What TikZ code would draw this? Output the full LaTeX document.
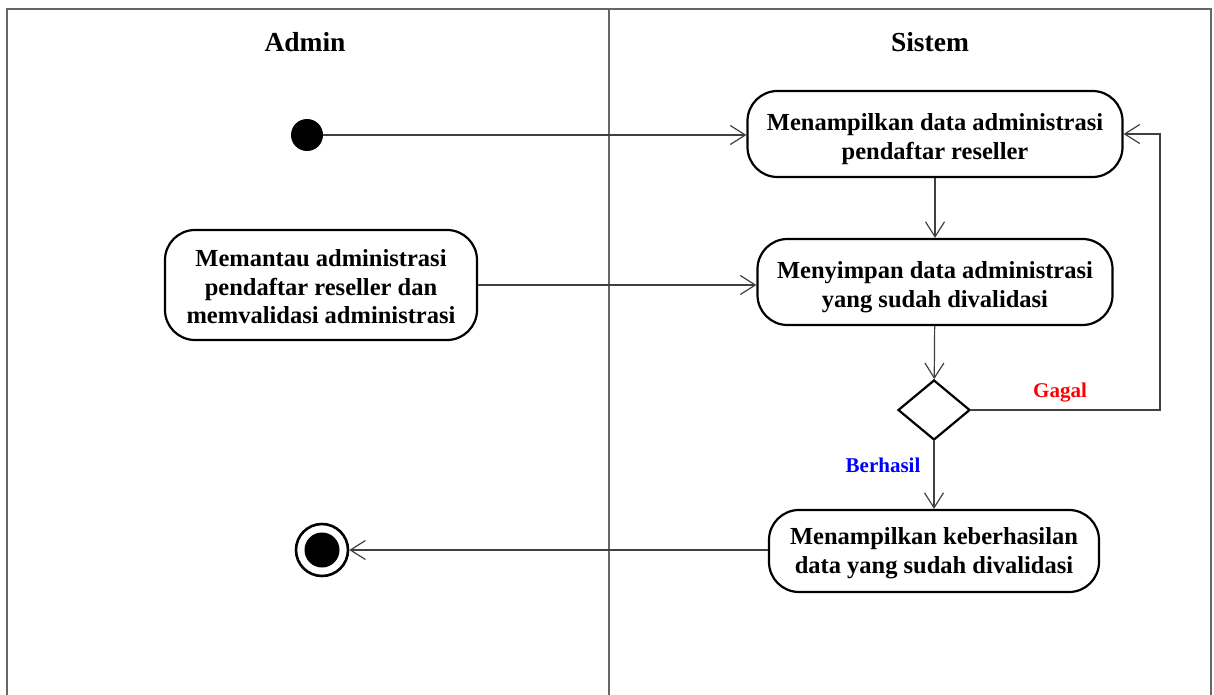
\documentclass[tikz,border=0pt]{standalone}
\usepackage{fontspec}
\setmainfont{Liberation Serif}
\usetikzlibrary{arrows.meta,shapes.geometric}
% strut that drops a two-line label a little below the geometric centre
\newcommand{\topstrut}[1]{\rule{0pt}{#1}}
\begin{document}
\begin{tikzpicture}[x=1pt,y=-1pt,
  lane/.style={draw=black!60, line width=1.6pt},
  title/.style={font=\fontsize{27.5}{32}\selectfont\bfseries},
  action/.style={draw=black, line width=2.2pt, rounded corners=30pt, align=center,
    inner sep=0pt, font=\fontsize{24.5}{28.5}\selectfont\bfseries},
  flow/.style={draw=black!75, line width=1.2pt,
    -{Straight Barb[length=15pt,width=19pt,line width=1.2pt]}},
  guard/.style={font=\fontsize{21}{24}\selectfont\bfseries},
  decision/.style={diamond, draw=black, line width=2.2pt, minimum width=72pt,
    minimum height=60pt, inner sep=0pt},
  startdot/.style={circle, fill=black, minimum size=32pt, inner sep=0pt},
  enddot/.style={circle, draw=black, line width=2.6pt, minimum size=52pt, inner sep=0pt},
  endcore/.style={circle, fill=black, minimum size=35pt, inner sep=0pt}]
\useasboundingbox (0,0) rectangle (1214,695);

% swimlane frame
\draw[lane] (7,695) -- (7,9) -- (1211,9) -- (1211,695);
\draw[lane] (609,9) -- (609,695);
\node[title] (tadmin) at (305,42) {Admin};
\node[title] (tsistem) at (930,42) {Sistem};

% activities
\node[startdot] (start) at (307,135) {};
\node[action, minimum width=375pt, minimum height=86pt] (show) at (935,134)
  {\topstrut{27pt}Menampilkan data administrasi\\pendaftar reseller};
\node[action, minimum width=355pt, minimum height=86pt] (save) at (935,282)
  {\topstrut{27pt}Menyimpan data administrasi\\yang sudah divalidasi};
\node[action, minimum width=312pt, minimum height=110pt] (monitor) at (321,285)
  {\topstrut{21pt}Memantau administrasi\\pendaftar reseller dan\\memvalidasi administrasi};
\node[decision] (check) at (934,410) {};
\node[action, minimum width=330pt, minimum height=82pt] (success) at (934,551)
  {\topstrut{21pt}Menampilkan keberhasilan\\data yang sudah divalidasi};
\node[enddot] (finish) at (322,550) {};
\node[endcore] (finishcore) at (finish.center) {};

% flows
\coordinate (loop) at (1160,0);
\draw[flow] (start.east) -- (start.east -| show.west);
\draw[flow] (show) -- (save);
\draw[flow] (monitor.east |- 0,285) -- (save.west |- 0,285);
\draw[flow] (save) -- (check);
\draw[flow] (check) -- (success);
\draw[flow] (check.east) -- (check.east -| loop) -- (show.east -| loop) -- (show.east);
\draw[flow] (success.west |- finish) -- (finish);

% guards
\node[guard, text=red] (fail) at (1060,393) {Gagal};
\node[guard, text=blue] (ok) at (883,465) {Berhasil};
\end{tikzpicture}
\end{document}
